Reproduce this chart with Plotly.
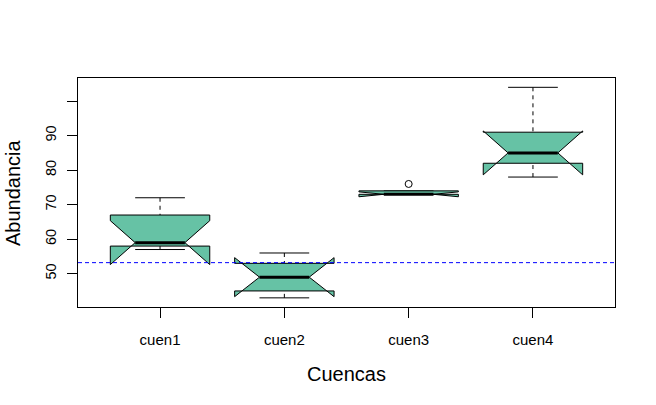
import numpy as np
import plotly.graph_objects as go

# ---- data ----
categories = ["cuen1", "cuen2", "cuen3", "cuen4"]
cuen1 = [57, 58, 59, 67, 72]
cuen2 = [43, 45, 49, 53, 56]
cuen3 = [73, 73, 73, 74, 76]
cuen4 = [78, 82, 85, 91, 104]
series = [cuen1, cuen2, cuen3, cuen4]
ref_line = 53.2
y_ticks = [50, 60, 70, 80, 90, 100]
y_tick_labels = ["50", "60", "70", "80", "90", ""]

FILL = "#66c2a5"
FONT = "Liberation Sans, Arial, sans-serif"
HW = 0.4          # half box width
NOTCH_FRAC = 0.5
STAPLE = 0.5


def fivenum(v):
    x = np.sort(np.asarray(v, dtype=float))
    n = len(x)
    n4 = np.floor((n + 3) / 2) / 2
    d = np.array([1, n4, (n + 1) / 2, n + 1 - n4, n]) - 1
    return 0.5 * (x[np.floor(d).astype(int)] + x[np.ceil(d).astype(int)])


def box_stats(v, coef=1.5):
    x = np.asarray(v, dtype=float)
    mn, q1, med, q3, mx = fivenum(x)
    iqr = q3 - q1
    inside = x[(x >= q1 - coef * iqr) & (x <= q3 + coef * iqr)]
    out = x[(x < q1 - coef * iqr) | (x > q3 + coef * iqr)]
    lo, hi = inside.min(), inside.max()
    conf = 1.58 * iqr / np.sqrt(len(x))
    return dict(lo=lo, q1=q1, med=med, q3=q3, hi=hi, clo=med - conf, chi=med + conf, out=out)


fig = go.Figure()

for i, (name, vals) in enumerate(zip(categories, series)):
    c = i + 1
    s = box_stats(vals)
    # whiskers (dashed)
    for a, b in ((s["hi"], s["q3"]), (s["lo"], s["q1"])):
        fig.add_trace(go.Scatter(x=[c, c], y=[a, b], mode="lines",
                                 line=dict(color="black", width=1, dash="4px,4px"),
                                 hoverinfo="skip", showlegend=False))
    # staples
    for yv in (s["hi"], s["lo"]):
        fig.add_trace(go.Scatter(x=[c - HW * STAPLE, c + HW * STAPLE], y=[yv, yv], mode="lines",
                                 line=dict(color="black", width=1),
                                 hoverinfo="skip", showlegend=False))
    # notched box polygon (R bxp style)
    xx = c + HW * np.array([-1, 1, 1, NOTCH_FRAC, 1, 1, -1, -1, -NOTCH_FRAC, -1, -1])
    yy = [s["q1"], s["q1"], s["clo"], s["med"], s["chi"], s["q3"], s["q3"],
          s["chi"], s["med"], s["clo"], s["q1"]]
    fig.add_trace(go.Scatter(x=xx, y=yy, mode="lines", fill="toself", fillcolor=FILL,
                             line=dict(color="black", width=1),
                             hoverinfo="skip", showlegend=False))
    # median
    fig.add_trace(go.Scatter(x=[c - HW * NOTCH_FRAC, c + HW * NOTCH_FRAC], y=[s["med"], s["med"]],
                             mode="lines", line=dict(color="black", width=3),
                             hoverinfo="skip", showlegend=False))
    # outliers
    if len(s["out"]):
        fig.add_trace(go.Scatter(x=[c] * len(s["out"]), y=list(s["out"]), mode="markers",
                                 marker=dict(symbol="circle-open", size=7, color="black",
                                             line=dict(width=1)),
                                 hoverinfo="skip", showlegend=False))

# reference line
fig.add_trace(go.Scatter(x=[0.34, 4.66], y=[ref_line, ref_line], mode="lines",
                         line=dict(color="#0000ff", width=1, dash="4px,3px"),
                         hoverinfo="skip", showlegend=False))

fig.update_layout(
    width=656, height=405,
    margin=dict(l=78, r=41, t=78, b=98),
    paper_bgcolor="white", plot_bgcolor="white",
    font=dict(family=FONT, size=14.5, color="black"),
    xaxis=dict(range=[0.34, 4.66], tickvals=[1, 2, 3, 4], ticktext=categories,
               ticks="outside", ticklen=10, tickcolor="black", tickwidth=1,
               showgrid=False, zeroline=False, showline=True, mirror=True,
               linecolor="black", linewidth=1, ticklabelstandoff=9,
               tickfont=dict(size=15)),
    yaxis=dict(range=[40.35, 106.7], tickvals=y_ticks, ticktext=y_tick_labels,
               ticks="outside", ticklen=10, tickcolor="black", tickwidth=1,
               tickangle=-90, showgrid=False, zeroline=False, showline=True, mirror=True,
               linecolor="black", linewidth=1, ticklabelstandoff=5,
               tickfont=dict(size=14.5)),
    annotations=[
        dict(text="Cuencas", xref="paper", yref="paper", x=0.5, y=0,
             xanchor="center", yanchor="middle", yshift=-67, showarrow=False,
             font=dict(size=20)),
        dict(text="Abundancia", xref="paper", yref="paper", x=0, y=0.5,
             xanchor="center", yanchor="middle", xshift=-65.5, textangle=-90,
             showarrow=False, font=dict(size=20)),
    ],
)

fig.write_html("out.html")
